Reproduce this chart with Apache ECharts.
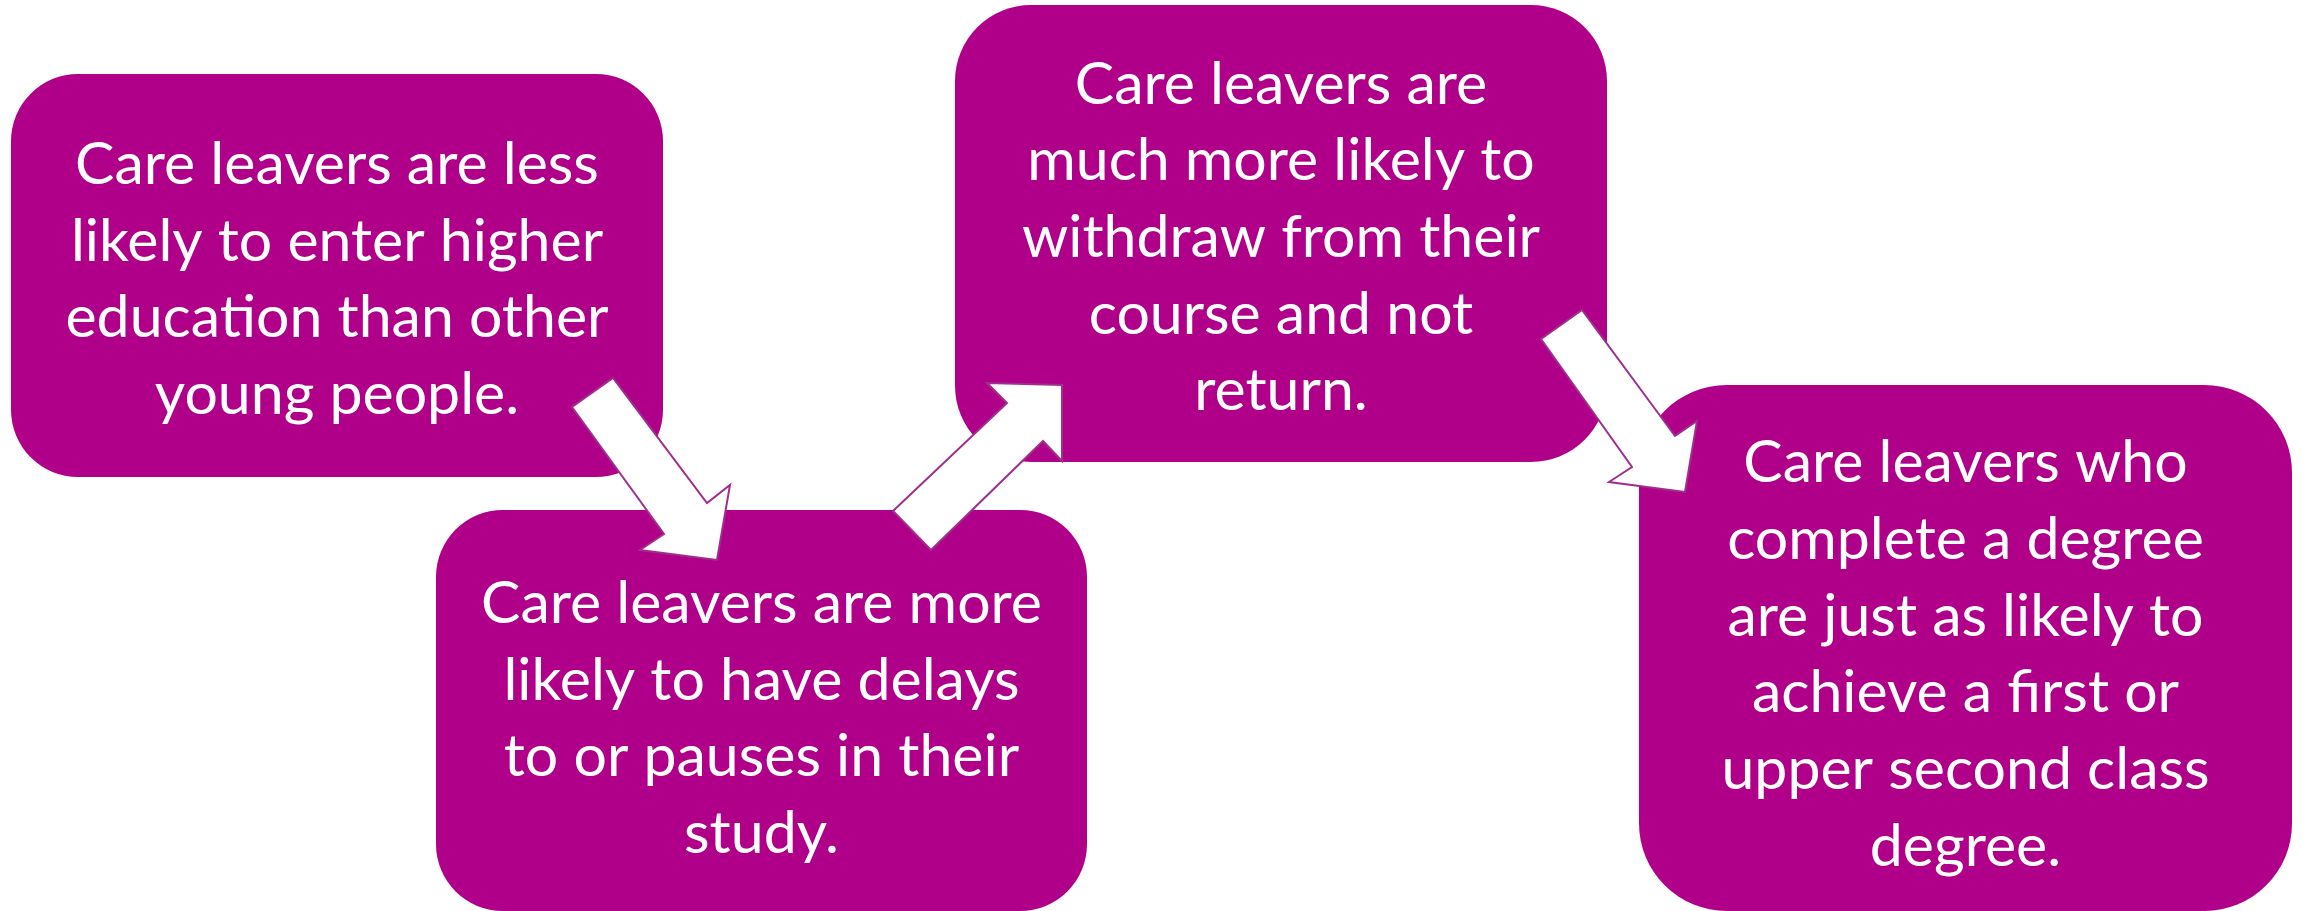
<!DOCTYPE html>
<html>
<head>
<meta charset="utf-8">
<script src="https://cdn.jsdelivr.net/npm/echarts@6/dist/echarts.min.js"></script>
<style>
html,body{margin:0;padding:0;background:#fff;}
#chart{width:2303px;height:911px;}
</style>
</head>
<body>
<div id="chart"></div>
<script>
// ---- content ----
const box1Lines = ['Care leavers are less', 'likely to enter higher', 'education than other', 'young people.'];
const box2Lines = ['Care leavers are more', 'likely to have delays', 'to or pauses in their', 'study.'];
const box3Lines = ['Care leavers are', 'much more likely to', 'withdraw from their', 'course and not', 'return.'];
const box4Lines = ['Care leavers who', 'complete a degree', 'are just as likely to', 'achieve a first or', 'upper second class', 'degree.'];
const boxTexts = [box1Lines, box2Lines, box3Lines, box4Lines];

// ---- layout (diagram units = pixels of the canvas) ----
const boxLayout = [
  {x0: 11, y0: 74, x1: 663, y1: 477, ty: 280},
  {x0: 436, y0: 510, x1: 1087, y1: 911, ty: 719},
  {x0: 955, y0: 5, x1: 1607, y1: 462, ty: 238},
  {x0: 1639, y0: 385, x1: 2292, y1: 911, ty: 655}
];
const arrowLayout = [
  [[572,407],[613,378],[707,503],[730,485],[717,560],[640,550],[664,534]],
  [[893,511],[1007,403],[987,383],[1062,385],[1062,461],[1043,441],[931,550]],
  [[1541,339],[1582,310],[1675,436],[1697,421],[1685,492],[1609,482],[1632,467]]
];

const BOX_COLOR = '#B0008A';
const ARROW_STROKE = '#A02F8C';
const FONT = 'Lato';
const FONT_SIZE = 59;
const LINE_H = 76.7;

const chart = echarts.init(document.getElementById('chart'), null, {renderer: 'canvas'});

const option = {
  animation: false,
  backgroundColor: '#ffffff',
  grid: {left: 0, right: 0, top: 0, bottom: 0},
  xAxis: {type: 'value', min: 0, max: 2303, show: false},
  yAxis: {type: 'value', min: 0, max: 911, inverse: true, show: false},
  series: [
    {
      type: 'custom',
      clip: false,
      z: 1,
      data: boxTexts.map((t, i) => [i]),
      renderItem: function (params, api) {
        const i = api.value(0);
        const L = boxLayout[i];
        const p0 = api.coord([L.x0, L.y0]);
        const p1 = api.coord([L.x1, L.y1]);
        const w = p1[0] - p0[0], h = p1[1] - p0[1];
        const r = Math.min(w, h) / 6;
        const c = api.coord([(L.x0 + L.x1) / 2, L.ty]);
        return {
          type: 'group',
          children: [
            {type: 'rect', shape: {x: p0[0], y: p0[1], width: w, height: h, r: r},
             style: {fill: BOX_COLOR}},
            {type: 'text', z2: 10,
             style: {text: boxTexts[i].join('\n'), x: c[0], y: c[1], fill: '#ffffff',
                     fontSize: FONT_SIZE, fontFamily: FONT, align: 'center', verticalAlign: 'middle',
                     textAlign: 'center', textVerticalAlign: 'middle', lineHeight: LINE_H}}
          ]
        };
      }
    },
    {
      type: 'custom',
      clip: false,
      z: 5,
      data: arrowLayout.map((a, i) => [i]),
      renderItem: function (params, api) {
        const pts = arrowLayout[api.value(0)].map(p => api.coord(p));
        return {type: 'polygon', shape: {points: pts},
                style: {fill: '#ffffff', stroke: ARROW_STROKE, lineWidth: 2, lineJoin: 'miter'}};
      }
    }
  ]
};
chart.setOption(option);
</script>
</body>
</html>
